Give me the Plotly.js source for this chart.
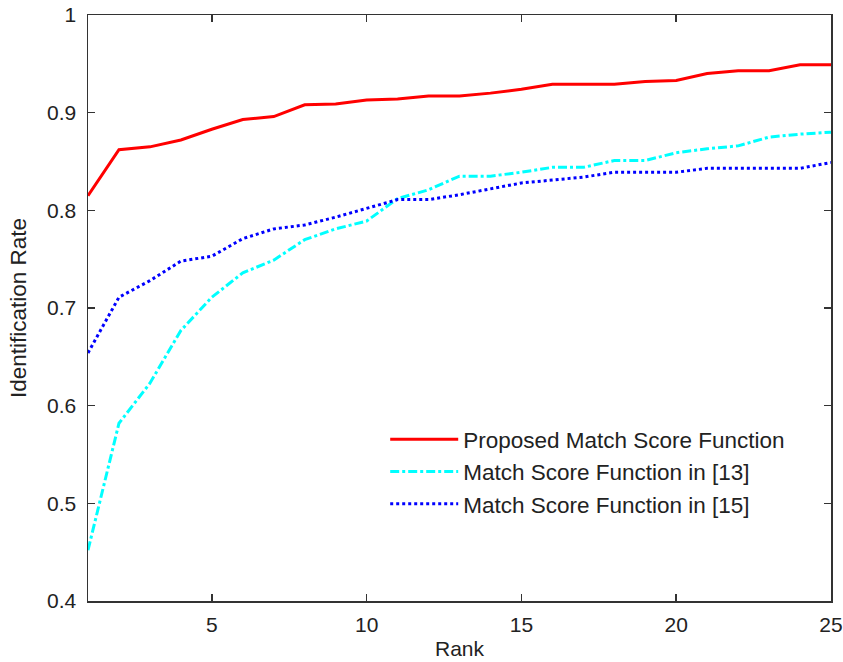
<!DOCTYPE html>
<html>
<head>
<meta charset="utf-8">
<script src="https://cdn.plot.ly/plotly-3.0.1.min.js"></script>
<style>html,body{margin:0;padding:0;background:#fff;}#chart{width:843px;height:662px;}</style>
</head>
<body>
<div id="chart"></div>
<script>
const ranks = [1,2,3,4,5,6,7,8,9,10,11,12,13,14,15,16,17,18,19,20,21,22,23,24,25];
const proposed = [0.815,0.862,0.865,0.872,0.883,0.893,0.896,0.908,0.909,0.913,0.914,0.917,0.917,0.920,0.924,0.929,0.929,0.929,0.932,0.933,0.940,0.943,0.943,0.949,0.949];
const ref13 = [0.452,0.582,0.623,0.677,0.711,0.736,0.749,0.770,0.781,0.789,0.812,0.821,0.835,0.835,0.839,0.844,0.844,0.851,0.851,0.859,0.863,0.866,0.875,0.878,0.880];
const ref15 = [0.654,0.711,0.728,0.748,0.753,0.771,0.781,0.785,0.793,0.802,0.811,0.811,0.816,0.822,0.828,0.831,0.834,0.839,0.839,0.839,0.843,0.843,0.843,0.843,0.849];
const seriesNames = ['Proposed Match Score Function','Match Score Function in [13]','Match Score Function in [15]'];

const fam = 'Liberation Sans, Arial, sans-serif';
const font = {family:fam, size:21, color:'#222'};
const traces = [
  {x:ranks, y:proposed, name:seriesNames[0], mode:'lines', line:{color:'#ff0000', width:3}},
  {x:ranks, y:ref13, name:seriesNames[1], mode:'lines', line:{color:'#00ffff', width:3, dash:'dashdot'}},
  {x:ranks, y:ref15, name:seriesNames[2], mode:'lines', line:{color:'#0000ff', width:3, dash:'dot'}}
];
const axisCommon = {
  showgrid:false, zeroline:false, showline:true, linecolor:'#333', linewidth:1.5,
  mirror:'ticks', ticks:'inside', ticklen:7, tickwidth:1.5, tickcolor:'#333',
  tickfont:font, automargin:false
};
const layout = {
  width:843, height:662,
  margin:{l:88, r:12, t:15, b:61},
  paper_bgcolor:'#fff', plot_bgcolor:'#fff',
  font:font,
  showlegend:true,
  legend:{x:0.40, y:0.312, xanchor:'left', yanchor:'top', itemwidth:68, bgcolor:'rgba(255,255,255,0)', borderwidth:0, font:{family:fam, size:22.5, color:'#222'}},
  xaxis:Object.assign({}, axisCommon, {range:[1,25], tickvals:[5,10,15,20,25], ticklabelstandoff:4, title:{text:'Rank', font:font, standoff:6}}),
  yaxis:Object.assign({}, axisCommon, {range:[0.4,1], tickvals:[0.4,0.5,0.6,0.7,0.8,0.9,1], ticktext:['0.4','0.5','0.6','0.7','0.8','0.9','1'], ticklabelstandoff:6, title:{text:'Identification Rate', font:{family:fam, size:22.5, color:'#222'}, standoff:14}})
};
Plotly.newPlot('chart', traces, layout, {displayModeBar:false, staticPlot:true});
</script>
</body>
</html>
